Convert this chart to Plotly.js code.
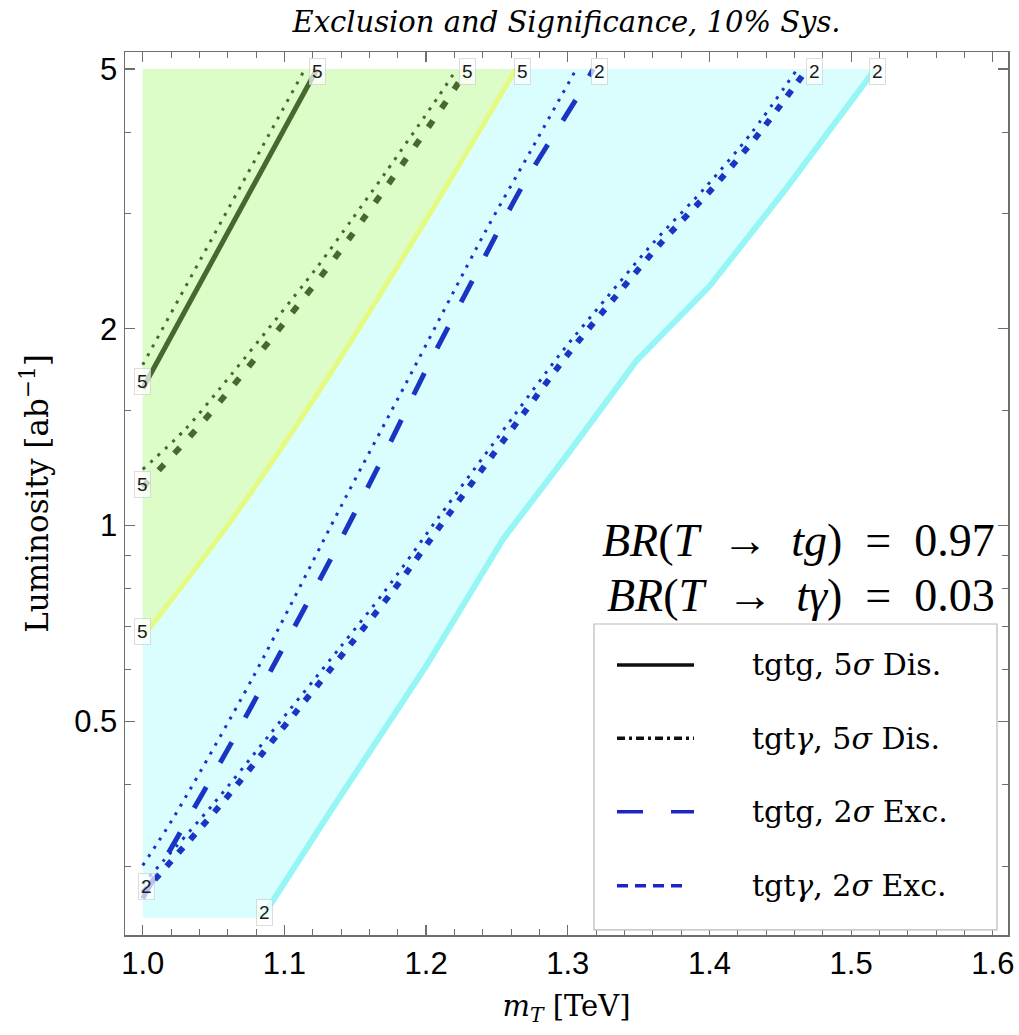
<!DOCTYPE html>
<html>
<head>
<meta charset="utf-8">
<script src="https://cdn.plot.ly/plotly-3.0.1.min.js"></script>
<style>html,body{margin:0;padding:0;background:#fff;}</style>
</head>
<body>
<div id="chart" style="width:1019px;height:1035px;"></div>
<script>
// Scan window of the study
const massMin = 1.0;
const lumiMin = 0.25;
const lumiMax = 5.0;

// Edge of the 5σ discovery region (green) and of the 2σ exclusion region (cyan)
const discoveryEdgeMass = [1.0, 1.0614, 1.1261, 1.2002, 1.2635];
const discoveryEdgeLumi = [0.674, 1.009, 1.625, 2.942, 5.0];
const exclusionEdgeMass = [1.084, 1.132, 1.2002, 1.2543, 1.299, 1.3484, 1.4001, 1.4519, 1.517];
const exclusionEdgeLumi = [0.25, 0.363, 0.609, 0.952, 1.277, 1.785, 2.325, 3.232, 5.0];

// tgtg, 5σ discovery contour and its dotted companion
const tgtgDisMass = [1.0, 1.05, 1.123];
const tgtgDisLumi = [1.62, 2.555, 5.0];
const tgtgDisDotMass = [1.0, 1.0409, 1.1145];
const tgtgDisDotLumi = [1.761, 2.555, 5.0];

// tgtγ, 5σ discovery contour and its dotted companion
const tgtaDisMass = [1.0, 1.0379, 1.0637, 1.1296, 1.1555, 1.179, 1.2167, 1.229];
const tgtaDisLumi = [1.143, 1.403, 1.635, 2.466, 2.942, 3.468, 4.544, 5.0];
const tgtaDisDotMass = [1.0, 1.0301, 1.056, 1.1219, 1.1477, 1.1713, 1.2089, 1.2216];
const tgtaDisDotLumi = [1.218, 1.403, 1.635, 2.466, 2.942, 3.468, 4.544, 5.0];

// tgtg, 2σ exclusion contour and its dotted companion
const tgtgExcMass = [1.0, 1.0238, 1.0614, 1.0967, 1.132, 1.166, 1.199, 1.2331, 1.2673, 1.3072, 1.318];
const tgtgExcLumi = [0.268, 0.3305, 0.459, 0.6346, 0.8817, 1.226, 1.713, 2.38, 3.289, 4.544, 5.0];
const tgtgExcDotMass = [1.0, 1.0212, 1.0778, 1.1438, 1.1861, 1.2414, 1.2731, 1.306];
const tgtgExcDotLumi = [0.301, 0.3547, 0.5845, 1.109, 1.654, 2.807, 3.722, 5.0];

// tgtγ, 2σ exclusion contour and its dotted companion
const tgtaExcMass = [1.0, 1.0203, 1.0555, 1.0955, 1.1449, 1.1766, 1.2143, 1.2684, 1.3001, 1.3331, 1.366, 1.4025, 1.4354, 1.469];
const tgtaExcLumi = [0.273, 0.306, 0.374, 0.4786, 0.6496, 0.793, 1.027, 1.479, 1.828, 2.232, 2.71, 3.289, 3.995, 5.0];
const tgtaExcDotMass = [1.0, 1.0147, 1.0499, 1.0899, 1.1393, 1.171, 1.2087, 1.2628, 1.2945, 1.3275, 1.3604, 1.3969, 1.4298, 1.462];
const tgtaExcDotLumi = [0.282, 0.306, 0.374, 0.4786, 0.6496, 0.793, 1.027, 1.479, 1.828, 2.232, 2.71, 3.289, 3.995, 5.0];

// Axis ticks
const massTicks = [1.0, 1.1, 1.2, 1.3, 1.4, 1.5, 1.6];
const massTickText = ['1.0', '1.1', '1.2', '1.3', '1.4', '1.5', '1.6'];
const lumiTicks = [0.5, 1, 2, 5];
const lumiTickText = ['0.5', '1', '2', '5'];
const lumiMinorTicks = [0.3, 0.4, 0.6, 0.7, 0.8, 0.9, 1.5, 3, 4];

// Legend entries
const legendLabels = ['tgtg, 5<i>σ</i> Dis.', 'tgt<i>γ</i>, 5<i>σ</i> Dis.', 'tgtg, 2<i>σ</i> Exc.', 'tgt<i>γ</i>, 2<i>σ</i> Exc.'];
const legendColors = ['rgb(15,15,15)', 'rgb(15,15,15)', 'rgb(30,36,196)', 'rgb(30,36,196)'];
const legendDashes = ['solid', '8px,4px,3px,4px', '26px,28px', '11px,7px'];

const darkGreen = 'rgb(72,104,48)';
const blue = 'rgb(26,52,196)';
const serif = 'DejaVu Serif, serif';
const sans = 'Liberation Sans, Arial, sans-serif';
const dotted = '3px,7px';

function curve(x, y, color, width, dash, shape) {
  return {type: 'scatter', mode: 'lines', x: x, y: y, hoverinfo: 'skip', showlegend: false,
          line: {color: color, width: width, dash: dash, shape: shape || 'linear', smoothing: 0.8}};
}

const traces = [
  // 2σ exclusion area
  {type: 'scatter', mode: 'lines', hoverinfo: 'skip', showlegend: false, fill: 'toself',
   x: [massMin].concat(exclusionEdgeMass, [massMin]),
   y: [lumiMin].concat(exclusionEdgeLumi, [lumiMax]),
   fillcolor: 'rgb(218,253,253)', line: {width: 0}},
  // 5σ discovery area
  {type: 'scatter', mode: 'lines', hoverinfo: 'skip', showlegend: false, fill: 'toself',
   x: discoveryEdgeMass.concat([massMin]),
   y: discoveryEdgeLumi.concat([lumiMax]),
   fillcolor: 'rgb(220,252,200)', line: {width: 0}},
  curve(exclusionEdgeMass, exclusionEdgeLumi, 'rgb(150,246,246)', 6, 'solid'),
  curve(discoveryEdgeMass, discoveryEdgeLumi, 'rgb(228,250,128)', 5, 'solid', 'spline'),
  curve(tgtgDisDotMass, tgtgDisDotLumi, darkGreen, 3, dotted),
  curve(tgtaDisDotMass, tgtaDisDotLumi, darkGreen, 3, dotted, 'spline'),
  curve(tgtgExcDotMass, tgtgExcDotLumi, blue, 3, dotted, 'spline'),
  curve(tgtaExcDotMass, tgtaExcDotLumi, blue, 3, dotted, 'spline'),
  curve(tgtgDisMass, tgtgDisLumi, darkGreen, 5, 'solid'),
  curve(tgtaDisMass, tgtaDisLumi, darkGreen, 6, '8px,15px', 'spline'),
  curve(tgtgExcMass, tgtgExcLumi, blue, 5, '24px,28px', 'spline'),
  curve(tgtaExcMass, tgtaExcLumi, blue, 6, '7px,11px', 'spline')
];

// Contour level labels sit at the two ends of each curve
function levelLabel(x, y, text, xs, ys) {
  return {x: x, y: Math.log10(y), xref: 'x', yref: 'y', text: text, showarrow: false,
          xshift: xs, yshift: ys, font: {family: sans, size: 19, color: '#1a1a1a'},
          bgcolor: 'rgba(255,255,255,0.7)', bordercolor: 'rgba(205,205,205,0.7)', borderwidth: 1, borderpad: 2};
}
function first(a) { return a[0]; }
function last(a) { return a[a.length - 1]; }

const annotations = [
  levelLabel(first(tgtgDisMass), first(tgtgDisLumi), '5', 0, 7),
  levelLabel(first(tgtaDisMass), first(tgtaDisLumi), '5', 0, 3),
  levelLabel(first(discoveryEdgeMass), first(discoveryEdgeLumi), '5', 0, 5),
  levelLabel(first(tgtgExcMass), first(tgtgExcLumi), '2', 4, 12),
  levelLabel(first(exclusionEdgeMass), first(exclusionEdgeLumi), '2', 3, 6),
  levelLabel(last(tgtgDisMass), last(tgtgDisLumi), '5', 1, -2),
  levelLabel(last(tgtaDisMass), last(tgtaDisLumi), '5', 0, -2),
  levelLabel(last(discoveryEdgeMass), last(discoveryEdgeLumi), '5', 6, -2),
  levelLabel(last(tgtgExcMass), last(tgtgExcLumi), '2', 6, -2),
  levelLabel(last(tgtaExcMass), last(tgtaExcLumi), '2', 7, -2),
  levelLabel(last(exclusionEdgeMass), last(exclusionEdgeLumi), '2', 2, -2),
  // Branching ratios
  {xref: 'paper', yref: 'paper', x: 0.9875, y: 0.4473, xanchor: 'right', yanchor: 'middle', showarrow: false,
   text: '<i>BR</i>(<i>T</i>\u00a0\u00a0→\u00a0\u00a0<i>tg</i>)\u00a0\u00a0=\u00a0\u00a00.97',
   font: {family: 'Liberation Serif, serif', size: 46, color: '#000'}},
  {xref: 'paper', yref: 'paper', x: 0.9875, y: 0.385, xanchor: 'right', yanchor: 'middle', showarrow: false,
   text: '<i>BR</i>(<i>T</i>\u00a0\u00a0→\u00a0\u00a0<i>tγ</i>)\u00a0\u00a0=\u00a0\u00a00.03',
   font: {family: 'Liberation Serif, serif', size: 46, color: '#000'}}
];

// Hand-drawn legend box
const legendRowsY = [0.3058, 0.2228, 0.1396, 0.0558];
const shapes = [
  {type: 'rect', xref: 'paper', yref: 'paper', x0: 0.5311, x1: 0.9875, y0: 0.0057, y1: 0.3522,
   fillcolor: '#fff', line: {color: 'rgb(185,185,185)', width: 1.2}, layer: 'above'}
];
legendLabels.forEach(function (label, i) {
  shapes.push({type: 'line', xref: 'paper', yref: 'paper', x0: 0.5572, x1: i === 3 ? 0.634 : 0.6444,
               y0: legendRowsY[i], y1: legendRowsY[i], layer: 'above',
               line: {color: legendColors[i], width: 3.5, dash: legendDashes[i]}});
  annotations.push({xref: 'paper', yref: 'paper', x: 0.7078, y: legendRowsY[i], xanchor: 'left', yanchor: 'middle',
                    showarrow: false, text: label,
                    font: {family: serif, size: 30, color: '#000'}});
});

const axisColor = 'rgb(110,110,110)';
const layout = {
  width: 1019, height: 1035,
  margin: {l: 125, r: 11, t: 52, b: 100},
  paper_bgcolor: '#fff', plot_bgcolor: '#fff',
  font: {family: sans, color: '#000'},
  title: {text: '<i>Exclusion and Significance, 10% Sys.</i>',
          font: {family: serif, size: 29, color: '#000'},
          x: 0.5, xref: 'paper', y: 0.979, yref: 'container', yanchor: 'middle'},
  xaxis: {
    range: [0.9875, 1.6107], tickmode: 'array', tickvals: massTicks, ticktext: massTickText,
    ticks: 'inside', ticklen: 10, tickwidth: 1.2, tickcolor: axisColor,
    showline: true, linecolor: axisColor, linewidth: 1.5, mirror: 'allticks',
    showgrid: false, zeroline: false,
    tickfont: {family: sans, size: 31, color: '#000'},
    minor: {dtick: 0.02, tick0: 1.0, ticks: 'inside', ticklen: 6, tickwidth: 1, tickcolor: axisColor, showgrid: false},
    title: {text: '<i>m</i><sub><i>T</i></sub> [TeV]', standoff: 16,
            font: {family: serif, size: 29, color: '#000'}}
  },
  yaxis: {
    type: 'log', range: [Math.log10(0.2355), Math.log10(5.31)],
    tickmode: 'array', tickvals: lumiTicks, ticktext: lumiTickText,
    ticks: 'inside', ticklen: 10, tickwidth: 1.2, tickcolor: axisColor,
    showline: true, linecolor: axisColor, linewidth: 1.5, mirror: 'allticks',
    showgrid: false, zeroline: false,
    tickfont: {family: sans, size: 31, color: '#000'},
    minor: {tickmode: 'array', tickvals: lumiMinorTicks, ticks: 'inside', ticklen: 6, tickwidth: 1, tickcolor: axisColor, showgrid: false},
    title: {text: 'Luminosity [ab<sup>−1</sup>]', standoff: 16,
            font: {family: serif, size: 31, color: '#000'}}
  },
  showlegend: false,
  annotations: annotations,
  shapes: shapes
};

Plotly.newPlot('chart', traces, layout, {displayModeBar: false, staticPlot: true});
</script>
</body>
</html>
